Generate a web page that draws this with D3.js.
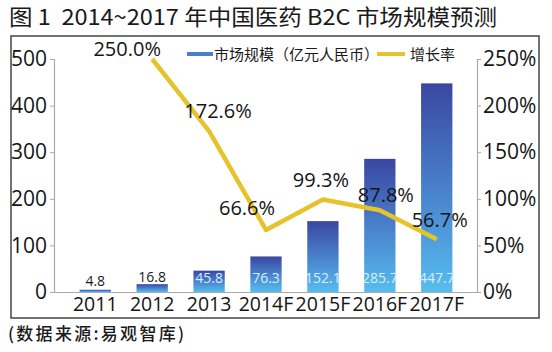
<!DOCTYPE html>
<html>
<head>
<meta charset="utf-8">
<script src="https://cdn.jsdelivr.net/npm/d3@7"></script>
<style>
  body { margin: 0; background: #fff; }
  svg text { font-family: "Open Sans", "Noto Sans CJK SC", sans-serif; fill: #1a1a1a; }
  svg text.cjk { font-family: "Noto Sans CJK SC", sans-serif; }
  svg text.num { font-weight: 400; fill: #151515; }
</style>
</head>
<body>
<svg id="chart" width="552" height="352"></svg>
<script>
(function () {
  const years = ["2011", "2012", "2013", "2014F", "2015F", "2016F", "2017F"];
  const marketSize = [4.8, 16.8, 45.8, 76.3, 152.1, 285.7, 447.7];
  const growthYears = ["2012", "2013", "2014F", "2015F", "2016F", "2017F"];
  const growthRate = [250.0, 172.6, 66.6, 99.3, 87.8, 56.7];
  const leftTicks = [0, 100, 200, 300, 400, 500];
  const rightTicks = [0, 50, 100, 150, 200, 250];

  // label nudges for the growth rate text (px)
  const rateLabelShift = [[-25, -10], [9, -20], [-19, -22], [-2, -19], [6, -15], [3, -19]];

  const svg = d3.select("#chart");
  const plot = { left: 54, right: 478, top: 59, bottom: 292 };

  const defs = svg.append("defs");
  const grad = defs.append("linearGradient")
    .attr("id", "barGrad")
    .attr("x1", 0).attr("y1", 0).attr("x2", 0).attr("y2", 1);
  grad.append("stop").attr("offset", "0%").attr("stop-color", "#3a47a0");
  grad.append("stop").attr("offset", "55%").attr("stop-color", "#4a86cf");
  grad.append("stop").attr("offset", "100%").attr("stop-color", "#56bdee");

  // title
  svg.append("text")
    .attr("class", "cjk")
    .attr("x", 9).attr("y", 25)
    .attr("font-size", 22)
    .attr("textLength", 488)
    .attr("lengthAdjust", "spacingAndGlyphs")
    .style("white-space", "pre")
    .text("图 1  2014~2017 年中国医药 B2C 市场规模预测");

  // frame
  svg.append("rect")
    .attr("x", 11).attr("y", 36)
    .attr("width", 528).attr("height", 282)
    .attr("fill", "none")
    .attr("stroke", "#444")
    .attr("stroke-width", 1.5);

  const x = d3.scaleBand()
    .domain(years)
    .range([plot.left, plot.right])
    .padding(0.45);

  const y = d3.scaleLinear()
    .domain([0, 500])
    .range([plot.bottom, plot.top]);

  const y2 = d3.scaleLinear()
    .domain([0, 250])
    .range([plot.bottom, plot.top]);

  // left axis
  const gl = svg.append("g")
    .attr("transform", `translate(${plot.left},0)`)
    .call(d3.axisLeft(y).tickValues(leftTicks).tickSize(4).tickPadding(3));
  gl.selectAll("text").attr("class", "num").attr("font-size", 21);

  // right axis
  const gr = svg.append("g")
    .attr("transform", `translate(${plot.right - 1},0)`)
    .call(d3.axisRight(y2).tickValues(rightTicks).tickSize(4).tickPadding(2)
      .tickFormat(d => d + "%"));
  gr.selectAll("text").attr("class", "num").attr("font-size", 21);

  // bottom axis
  const gb = svg.append("g")
    .attr("transform", `translate(0,${plot.bottom})`)
    .call(d3.axisBottom(x).tickSize(0).tickPadding(5));
  gb.selectAll("text").attr("class", "num").attr("font-size", 19.5);

  [gl, gr, gb].forEach(g => {
    g.select(".domain").attr("stroke", "#aaa").attr("stroke-width", 1.2);
    g.selectAll(".tick line").attr("stroke", "#aaa");
    g.attr("font-family", null);
  });

  // bars
  svg.append("g").selectAll("rect")
    .data(years)
    .enter()
    .append("rect")
    .attr("x", d => x(d))
    .attr("y", (d, i) => y(marketSize[i]))
    .attr("width", x.bandwidth())
    .attr("height", (d, i) => plot.bottom - y(marketSize[i]))
    .attr("fill", "url(#barGrad)");

  // bar value labels
  svg.append("g").selectAll("text")
    .data(years)
    .enter()
    .append("text")
    .attr("x", d => x(d) + x.bandwidth() / 2)
    .attr("y", (d, i) => marketSize[i] < 30 ? Math.min(y(marketSize[i]) - 2, 286) : 283)
    .attr("text-anchor", "middle")
    .attr("font-size", 14)
    .style("fill", (d, i) => marketSize[i] < 30 ? "#1a1a1a" : "#d8eefc")
    .text((d, i) => marketSize[i].toFixed(1));

  // growth line
  const cx = d => x(d) + x.bandwidth() / 2;
  const line = d3.line()
    .x((d, i) => cx(growthYears[i]))
    .y(d => y2(d));

  svg.append("path")
    .datum(growthRate)
    .attr("d", line)
    .attr("fill", "none")
    .attr("stroke", "#e6c22c")
    .attr("stroke-width", 4.5)
    .attr("stroke-linejoin", "round");

  svg.append("g").selectAll("text")
    .data(growthRate)
    .enter()
    .append("text")
    .attr("class", "num")
    .attr("x", (d, i) => cx(growthYears[i]) + rateLabelShift[i][0])
    .attr("y", (d, i) => y2(d) + rateLabelShift[i][1] + 7)
    .attr("text-anchor", "middle")
    .attr("font-size", 20)
    .text(d => d.toFixed(1) + "%");

  // legend
  const lg = svg.append("g");
  lg.append("rect")
    .attr("x", 187).attr("y", 52).attr("width", 26).attr("height", 4)
    .attr("fill", "#4a7fcc");
  lg.append("text")
    .attr("class", "cjk")
    .attr("x", 214).attr("y", 60)
    .attr("font-size", 15)
    .text("市场规模（亿元人民币）");
  lg.append("rect")
    .attr("x", 377).attr("y", 52).attr("width", 28).attr("height", 4)
    .attr("fill", "#e6c22c");
  lg.append("text")
    .attr("class", "cjk")
    .attr("x", 410).attr("y", 60)
    .attr("font-size", 15)
    .text("增长率");

  // source
  svg.append("text")
    .attr("class", "cjk")
    .attr("x", 8).attr("y", 340)
    .attr("font-size", 17)
    .attr("font-weight", 500)
    .attr("textLength", 176)
    .text("(数据来源:易观智库)");
})()
</script>
</body>
</html>
